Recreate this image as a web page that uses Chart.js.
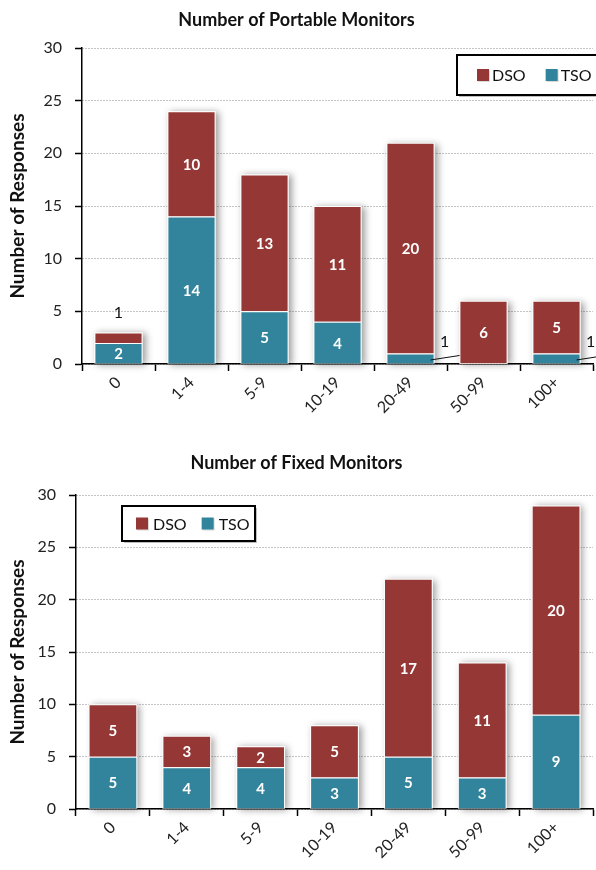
<!DOCTYPE html>
<html>
<head>
<meta charset="utf-8">
<script src="https://cdn.jsdelivr.net/npm/chart.js@4.4.1/dist/chart.umd.min.js"></script>
<style>
  html, body { margin: 0; padding: 0; background: #fff; }
  .panel { position: absolute; left: 0; width: 596px; height: 435px; }
  #p1 { top: 0; }
  #p2 { top: 435px; }
</style>
</head>
<body>
<div class="panel" id="p1"><canvas id="portable" width="596" height="435"></canvas></div>
<div class="panel" id="p2"><canvas id="fixed" width="596" height="435"></canvas></div>
<script>
// Monitor-count bands shared by both charts
const categories = ['0', '1-4', '5-9', '10-19', '20-49', '50-99', '100+'];

// Portable monitors: responses per band
const portableTSO = [2, 14, 5, 4, 1, 0, 1];
const portableDSO = [1, 10, 13, 11, 20, 6, 5];

// Fixed monitors: responses per band
const fixedTSO = [5, 4, 4, 3, 5, 3, 9];
const fixedDSO = [5, 3, 2, 5, 17, 11, 20];

// Value axis
const yMin = 0;
const yMax = 30;
const yStep = 5;

const DSO_COLOR = '#953735';
const TSO_COLOR = '#31849b';
const FONT = 'Lato, "Open Sans", sans-serif';

// Soft drop shadow behind each stacked column
const columnShadow = {
  id: 'columnShadow',
  beforeDatasetsDraw(chart) {
    const ctx = chart.ctx;
    const metas = chart.data.datasets.map((d, i) => chart.getDatasetMeta(i));
    const n = chart.data.labels.length;
    for (let i = 0; i < n; i++) {
      let top = Infinity, bottom = -Infinity, left = 0, right = 0;
      metas.forEach(m => {
        const b = m.data[i];
        if (!b) return;
        const p = b.getProps(['x', 'y', 'base', 'width'], true);
        top = Math.min(top, p.y);
        bottom = Math.max(bottom, p.base);
        left = p.x - p.width / 2;
        right = p.x + p.width / 2;
      });
      if (!(bottom > top)) continue;
      ctx.save();
      ctx.shadowColor = 'rgba(0,0,0,0.38)';
      ctx.shadowBlur = 7;
      ctx.shadowOffsetX = 3;
      ctx.shadowOffsetY = 1;
      ctx.fillStyle = '#fff';
      ctx.fillRect(left, top, right - left, bottom - top);
      ctx.restore();
    }
  }
};

// Segment values: white inside tall segments, callouts for thin ones
const valueLabels = {
  id: 'valueLabels',
  afterDatasetsDraw(chart) {
    const ctx = chart.ctx;
    const last = chart.data.datasets.length - 1;
    chart.data.datasets.forEach((ds, di) => {
      const meta = chart.getDatasetMeta(di);
      meta.data.forEach((bar, i) => {
        const v = ds.data[i];
        if (!v) return;
        const p = bar.getProps(['x', 'y', 'base', 'width'], true);
        const h = p.base - p.y;
        const cy = (p.y + p.base) / 2;
        ctx.save();
        ctx.textAlign = 'center';
        ctx.textBaseline = 'middle';
        if (h >= 14) {
          ctx.fillStyle = '#fff';
          ctx.font = 'bold 15px ' + FONT;
          ctx.fillText(String(v), p.x, cy + 1);
        } else if (di === last) {
          ctx.fillStyle = '#111';
          ctx.font = '16px ' + FONT;
          ctx.fillText(String(v), p.x, p.y - 20);
        } else {
          const r = p.x + p.width / 2;
          ctx.strokeStyle = '#111';
          ctx.lineWidth = 1;
          ctx.beginPath();
          ctx.moveTo(r - 4, cy + 1.5);
          ctx.lineTo(r + 25, cy - 3);
          ctx.stroke();
          ctx.fillStyle = '#111';
          ctx.font = '16px ' + FONT;
          ctx.fillText(String(v), r + 10, cy - 17);
        }
        ctx.restore();
      });
    });
  }
};

// Framed legend box
const boxLegend = {
  id: 'boxLegend',
  afterDraw(chart, args, o) {
    const ctx = chart.ctx;
    ctx.save();
    // frame shadow
    ctx.fillStyle = 'rgba(0,0,0,0.25)';
    ctx.fillRect(o.left + 2, o.top + 2, o.width, o.height);
    ctx.fillStyle = '#fff';
    ctx.fillRect(o.left, o.top, o.width, o.height);
    ctx.strokeStyle = '#000';
    ctx.lineWidth = 2;
    ctx.strokeRect(o.left, o.top, o.width, o.height);
    ctx.font = '16px ' + FONT;
    ctx.textBaseline = 'middle';
    ctx.textAlign = 'left';
    const cy = o.top + o.height / 2;
    let x = o.left + o.padLeft;
    const order = [1, 0];
    order.forEach(di => {
      const ds = chart.data.datasets[di];
      ctx.fillStyle = 'rgba(0,0,0,0.15)';
      ctx.fillRect(x + 1, cy - 5, 12, 12);
      ctx.fillStyle = ds.backgroundColor;
      ctx.fillRect(x, cy - 6, 12, 12);
      x += 12 + o.swatchGap;
      ctx.fillStyle = '#111';
      ctx.fillText(ds.label, x, cy + 1);
      x += ctx.measureText(ds.label).width + o.itemGap;
    });
    ctx.restore();
  }
};

function makeChart(id, title, tso, dso, geom) {
  return new Chart(document.getElementById(id), {
    type: 'bar',
    data: {
      labels: categories,
      datasets: [
        { label: 'TSO', data: tso, backgroundColor: TSO_COLOR, borderColor: '#fff', borderWidth: 1, borderSkipped: 'start' },
        { label: 'DSO', data: dso, backgroundColor: DSO_COLOR, borderColor: '#fff', borderWidth: 1, borderSkipped: 'start' }
      ]
    },
    options: {
      responsive: false,
      animation: false,
      events: [],
      layout: { padding: { left: 0, right: 3, top: 0, bottom: 0 } },
      datasets: { bar: { categoryPercentage: 1, barPercentage: 0.66 } },
      plugins: {
        legend: { display: false },
        tooltip: { enabled: false },
        title: {
          display: true,
          text: title,
          color: '#111',
          font: { family: FONT, size: 18, weight: 'bold', lineHeight: 1.2 },
          padding: geom.titlePad
        },
        boxLegend: geom.legend
      },
      scales: {
        x: {
          stacked: true,
          offset: true,
          grid: { display: true, drawOnChartArea: false, drawTicks: true, tickLength: 7, tickColor: '#000', tickWidth: 1.5, color: '#000' },
          border: { display: true, color: '#000', width: 1.5 },
          ticks: { color: '#222', font: { family: FONT, size: 16 }, minRotation: 45, maxRotation: 45, padding: 2, autoSkip: false },
          afterFit(s) { s.height = geom.xHeight; }
        },
        y: {
          stacked: true,
          min: yMin,
          max: yMax,
          ticks: { stepSize: yStep, color: '#222', font: { family: FONT, size: 16 }, padding: 13 },
          grid: { color: '#8a8a8a', lineWidth: 1, tickLength: 7, tickColor: '#000', tickWidth: 1.5, tickBorderDash: [] },
          border: { display: true, color: '#000', width: 1.5, dash: [1, 2] },
          title: {
            display: true,
            text: 'Number of Responses',
            color: '#111',
            font: { family: FONT, size: 19, weight: 'bold', lineHeight: 1.2 },
            padding: { top: 6, bottom: 0 }
          },
          afterFit(s) { s.width = geom.yWidth; }
        }
      }
    },
    plugins: [columnShadow, valueLabels, boxLegend]
  });
}

makeChart('portable', 'Number of Portable Monitors', portableTSO, portableDSO, {
  titlePad: { top: 9.2, bottom: 17.2 },
  xHeight: 71,
  yWidth: 82,
  legend: { left: 457, top: 55, width: 150, height: 40, padLeft: 20, swatchGap: 3, itemGap: 20 }
});

makeChart('fixed', 'Number of Fixed Monitors', fixedTSO, fixedDSO, {
  titlePad: { top: 17.2, bottom: 21.2 },
  xHeight: 61,
  yWidth: 76,
  legend: { left: 122, top: 71, width: 133, height: 35, padLeft: 14, swatchGap: 5, itemGap: 15 }
});
</script>
</body>
</html>
